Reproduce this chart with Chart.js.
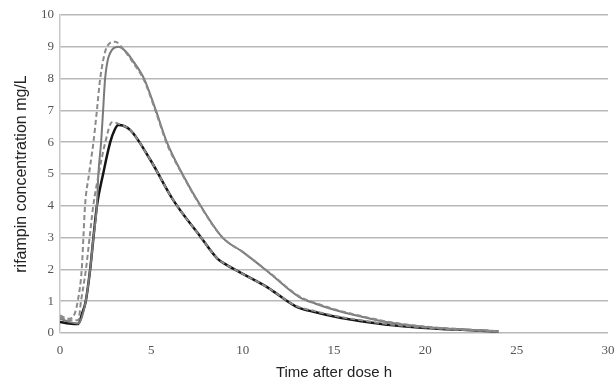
<!DOCTYPE html>
<html>
<head>
<meta charset="utf-8">
<script src="https://cdn.jsdelivr.net/npm/chart.js@4.4.1/dist/chart.umd.min.js"></script>
<style>
html,body{margin:0;padding:0;background:#fff;}
#wrap{width:614px;height:383px;position:relative;}
</style>
</head>
<body>
<div id="wrap"><canvas id="c" width="614" height="383"></canvas></div>
<script>
// Time after dose (h) and rifampin concentration (mg/L)
const highSolidT = [0,0.5,1,1.2,1.41,1.65,1.83,2.02,2.1,2.25,2.36,2.47,2.84,3.19,3.6,4.0,4.6,5.25,5.85,6.7,7.7,8.9,10,11.4,13.1,14,15,16,18,20,22,24];
const highSolidC = [0.45,0.35,0.3,0.5,1,2,3,4,5,6,7,8,8.9,9.0,8.85,8.55,8.0,7.0,6.0,5.0,4.0,3.0,2.55,1.92,1.13,0.92,0.73,0.58,0.33,0.19,0.11,0.05];

const highDashT = [0,0.5,0.8,0.97,1.19,1.28,1.37,1.59,1.83,2.02,2.2,2.57,3.02,3.5,4.0,4.6,5.25,5.85,6.7,7.7,8.9,10,11.4,13.1,14,15,16,18,20,22,24];
const highDashC = [0.55,0.45,0.6,1,2,3,4,5,6,7,8,9,9.16,8.9,8.5,7.95,6.95,5.95,4.98,3.98,3.0,2.55,1.93,1.15,0.94,0.75,0.6,0.35,0.2,0.12,0.06];

const lowSolidT = [0,0.5,1,1.2,1.41,1.65,1.83,2.02,2.36,2.75,3.0,3.19,3.85,4.95,6.2,7.7,8.6,9.1,9.9,11.4,12.9,14,15.4,16.5,18.1,20,22,24];
const lowSolidC = [0.35,0.3,0.28,0.6,1,2,3,4,5,6,6.4,6.54,6.38,5.44,4.18,3.02,2.35,2.15,1.89,1.42,0.84,0.65,0.47,0.37,0.25,0.16,0.1,0.05];

const lowDashT = [0,0.5,1,1.15,1.42,1.62,1.82,2.12,2.48,2.85,3.3,3.85,4.95,6.2,7.7,8.6,9.1,9.9,11.4,12.9,14,15.4,16.5,18.1,20,22,24];
const lowDashC = [0.5,0.4,0.4,1,2,3,4,5,6,6.63,6.56,6.38,5.44,4.18,3.02,2.35,2.15,1.89,1.42,0.86,0.68,0.5,0.4,0.27,0.17,0.1,0.05];

const xTicks = [0,5,10,15,20,25,30];
const yTicks = [0,1,2,3,4,5,6,7,8,9,10];

function pts(t, c){ return t.map((v,i)=>({x:v, y:c[i]})); }

new Chart(document.getElementById('c'), {
  type: 'scatter',
  data: {
    datasets: [
      {data: pts(lowDashT, lowDashC), borderColor:'#8a8a8a', borderWidth:2, borderDash:[5,3], showLine:true, pointRadius:0, cubicInterpolationMode:'monotone'},
      {data: pts(highDashT, highDashC), borderColor:'#8a8a8a', borderWidth:2, borderDash:[5,3], showLine:true, pointRadius:0, cubicInterpolationMode:'monotone'},
      {data: pts(highSolidT, highSolidC), borderColor:'#7a7a7a', borderWidth:2, showLine:true, pointRadius:0, cubicInterpolationMode:'monotone'},
      {data: pts(lowSolidT, lowSolidC), borderColor:'#151515', borderWidth:2.5, showLine:true, pointRadius:0, cubicInterpolationMode:'monotone'}
    ]
  },
  options: {
    responsive:false,
    animation:false,
    devicePixelRatio:1,
    layout:{padding:{top:15,right:0,left:0,bottom:0}},
    plugins:{legend:{display:false}, tooltip:{enabled:false}},
    scales:{
      x:{
        type:'linear', min:0, max:30,
        afterBuildTicks(s){ s.ticks = xTicks.map(v=>({value:v})); },
        afterFit(s){ s.height = 50; s.paddingRight = 6; s.paddingLeft = 0; },
        grid:{display:false, drawTicks:false},
        border:{display:false},
        ticks:{font:{family:'Liberation Serif', size:13}, color:'#555', padding:10, maxRotation:0},
        title:{display:true, text:'Time after dose h', font:{family:'Liberation Sans', size:15}, color:'#222', padding:{top:2,bottom:1}}
      },
      y:{
        type:'linear', min:0, max:10,
        afterBuildTicks(s){ s.ticks = yTicks.map(v=>({value:v})); },
        afterFit(s){ s.width = 60; },
        grid:{color:'#b8b8b8', lineWidth:1.5, drawTicks:false},
        border:{display:true, color:'#c8c8c8', width:1.5},
        ticks:{font:{family:'Liberation Serif', size:13}, color:'#555', padding:6},
        title:{display:true, text:'rifampin concentration mg/L', font:{family:'Liberation Sans', size:16}, color:'#222', padding:{top:12,bottom:0}}
      }
    }
  }
});
</script>
</body>
</html>
